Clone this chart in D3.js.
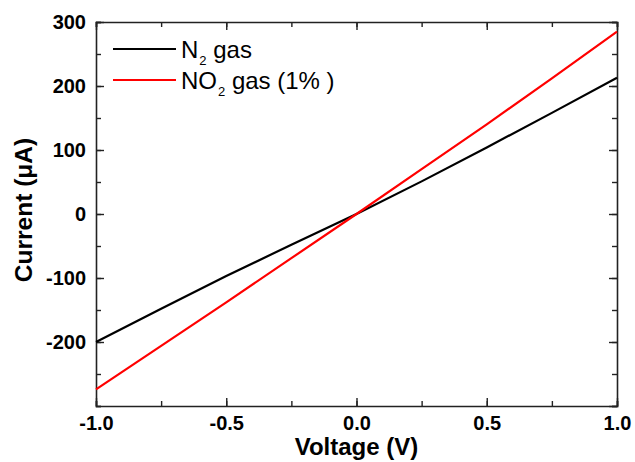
<!DOCTYPE html>
<html><head><meta charset="utf-8">
<script src="https://cdn.jsdelivr.net/npm/d3@7"></script>
<style>body{margin:0;background:#fff}svg{display:block}</style>
</head><body>
<script>
const voltage = [-1, -0.75, -0.5, -0.25, 0, 0.25, 0.5, 0.75, 1];
const n2Current = [-200, -148, -97, -48, 0, 51, 104, 158, 213];
const no2Current = [-274, -206, -138, -69, 0, 70, 140, 212, 285];
const seriesNames = ["N", "NO"];
const xTicks = [-1.0, -0.5, 0.0, 0.5, 1.0];
const yTicks = [-200, -100, 0, 100, 200, 300];

const W = 635, H = 462;
const m = {l: 96, r: 18, t: 22, b: 56};
const svg = d3.select("body").append("svg").attr("width", W).attr("height", H);
const x = d3.scaleLinear().domain([-1, 1]).range([m.l, W - m.r]);
const y = d3.scaleLinear().domain([-300, 300]).range([H - m.b, m.t]);
const font = "'Liberation Sans', Arial, sans-serif";
const axCol = "#222";
const hy = s => String(s).replace("\u2212", "-");

function styleAxis(g){
  g.select(".domain").attr("stroke", axCol).attr("stroke-width", 1.6);
  g.selectAll(".tick line").attr("stroke", axCol).attr("stroke-width", 1.4);
}
const xMinor = d3.range(-1, 1.0001, 0.25);
const yMinor = d3.range(-300, 300.1, 50);

// bottom
const gb = svg.append("g").attr("transform", `translate(0,${y(-300)})`);
gb.call(d3.axisBottom(x).tickValues(xMinor).tickSize(-5).tickFormat(""));
gb.append("g").call(d3.axisBottom(x).tickValues(xTicks).tickSize(-8).tickFormat(d => hy(d3.format(".1f")(d))))
  .call(g => g.select(".domain").remove());
gb.selectAll("text").attr("font-family", font).attr("font-weight", "bold").attr("font-size", 20).attr("fill", "#000")
  .attr("y", 24).attr("dy", 0);
styleAxis(gb);
// top
const gt = svg.append("g").attr("transform", `translate(0,${y(300)})`);
gt.call(d3.axisTop(x).tickValues(xMinor).tickSize(-5).tickFormat(""));
gt.append("g").call(d3.axisTop(x).tickValues(xTicks).tickSize(-8).tickFormat("")).call(g => g.select(".domain").remove());
styleAxis(gt);
// left
const gl = svg.append("g").attr("transform", `translate(${x(-1)},0)`);
gl.call(d3.axisLeft(y).tickValues(yMinor).tickSize(-5).tickFormat(""));
gl.append("g").call(d3.axisLeft(y).tickValues(yTicks).tickSize(-8).tickPadding(10).tickFormat(d => hy(d3.format("d")(d))))
  .call(g => g.select(".domain").remove());
gl.selectAll("text").attr("font-family", font).attr("font-weight", "bold").attr("font-size", 20).attr("fill", "#000");
styleAxis(gl);
// right
const gr = svg.append("g").attr("transform", `translate(${x(1)},0)`);
gr.call(d3.axisRight(y).tickValues(yMinor).tickSize(-5).tickFormat(""));
gr.append("g").call(d3.axisRight(y).tickValues(yTicks.concat([-300])).tickSize(-8).tickFormat("")).call(g => g.select(".domain").remove());
styleAxis(gr);

// lines
const line = d3.line().x(d => x(d[0])).y(d => y(d[1]));
svg.append("path").datum(voltage.map((v, i) => [v, n2Current[i]]))
  .attr("d", line).attr("fill", "none").attr("stroke", "#000").attr("stroke-width", 2.2);
svg.append("path").datum(voltage.map((v, i) => [v, no2Current[i]]))
  .attr("d", line).attr("fill", "none").attr("stroke", "#ff0000").attr("stroke-width", 2.2);

// legend
const leg = [{name: seriesNames[0], rest: " gas", c: "#000", y: 49}, {name: seriesNames[1], rest: " gas (1% )", c: "#ff0000", y: 80}];
leg.forEach(d => {
  svg.append("line").attr("x1", 113).attr("x2", 176).attr("y1", d.y).attr("y2", d.y).attr("stroke", d.c).attr("stroke-width", 2);
  const t = svg.append("text").attr("x", 181).attr("y", d.y + 9).attr("font-family", font).attr("font-size", 24).attr("fill", "#000");
  t.append("tspan").text(d.name);
  t.append("tspan").attr("font-size", 13).attr("dx", 1).attr("dy", 7).text("2");
  t.append("tspan").attr("dy", -7).text(d.rest);
});

// axis titles
svg.append("text").attr("x", (x(-1) + x(1)) / 2).attr("y", 455).attr("text-anchor", "middle")
  .attr("font-family", font).attr("font-weight", "bold").attr("font-size", 24).text("Voltage (V)");
svg.append("text").attr("transform", `translate(32,210) rotate(-90)`).attr("text-anchor", "middle")
  .attr("font-family", font).attr("font-weight", "bold").attr("font-size", 24.5).text("Current (μA)");
</script>
</body></html>
